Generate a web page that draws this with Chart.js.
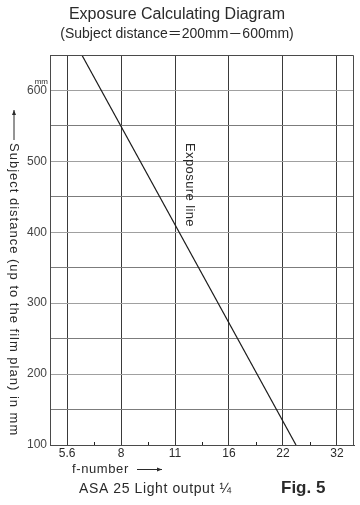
<!DOCTYPE html>
<html>
<head>
<meta charset="utf-8">
<title>Exposure Calculating Diagram</title>
<script src="https://cdn.jsdelivr.net/npm/chart.js@4.4.1/dist/chart.umd.min.js"></script>
<style>
  html, body { margin: 0; padding: 0; background: #fff; }
  canvas { display: block; }
</style>
</head>
<body>
<canvas id="chart" width="360" height="505"></canvas>
<script>
// f-number stops along the bottom, as printed
const fNumberLabels = ["5.6", "8", "11", "16", "22", "32"];
// exact stop values (one stop = factor sqrt 2)
const fNumberStops = [5.657, 8, 11.314, 16, 22.627, 32];
// small marks between the stops
const fNumberHalfStops = [6.727, 9.514, 13.454, 19.027, 26.909];

// subject distance grid in mm, labelled every 100
const distanceGrid = [100, 150, 200, 250, 300, 350, 400, 450, 500, 550, 600];
const distanceLabels = [100, 200, 300, 400, 500, 600];

// the exposure line
const exposureF = [6.22, 24.6];
const exposureDistance = [650, 100];

const FONT = "'Liberation Sans', 'Noto Sans CJK JP', sans-serif";
const TEXT = "#2a2a2a";

function drawVertical(ctx, text, x, y, spacing) {
  ctx.save();
  ctx.translate(x, y);
  ctx.rotate(Math.PI / 2);
  if ("letterSpacing" in ctx) ctx.letterSpacing = spacing + "px";
  ctx.textAlign = "left";
  ctx.textBaseline = "middle";
  ctx.fillText(text, 0, 0);
  ctx.restore();
}

function arrow(ctx, x1, y1, x2, y2) {
  const a = Math.atan2(y2 - y1, x2 - x1);
  ctx.beginPath();
  ctx.moveTo(x1, y1);
  ctx.lineTo(x2, y2);
  ctx.stroke();
  ctx.beginPath();
  ctx.moveTo(x2, y2);
  ctx.lineTo(x2 - 5 * Math.cos(a) + 2 * Math.sin(a), y2 - 5 * Math.sin(a) - 2 * Math.cos(a));
  ctx.lineTo(x2 - 5 * Math.cos(a) - 2 * Math.sin(a), y2 - 5 * Math.sin(a) + 2 * Math.cos(a));
  ctx.closePath();
  ctx.fill();
}

// frame, half-stop marks and the loose captions of the figure
const annotations = {
  id: "annotations",
  afterDraw(chart) {
    const { ctx, chartArea: area, scales } = chart;
    ctx.save();
    ctx.strokeStyle = "#4a4a4a";
    ctx.lineWidth = 1;
    ctx.beginPath();
    ctx.moveTo(Math.round(area.left) + 0.5, Math.round(area.top) + 0.5);
    ctx.lineTo(Math.round(area.right) - 0.5, Math.round(area.top) + 0.5);
    ctx.lineTo(Math.round(area.right) - 0.5, Math.round(area.bottom));
    ctx.stroke();

    ctx.strokeStyle = "#222";
    fNumberHalfStops.forEach((f) => {
      const x = Math.round(scales.x.getPixelForValue(f)) + 0.5;
      ctx.beginPath();
      ctx.moveTo(x, area.bottom);
      ctx.lineTo(x, area.bottom - 3);
      ctx.stroke();
    });

    ctx.fillStyle = TEXT;
    ctx.strokeStyle = TEXT;

    // unit above the top label
    ctx.font = "8px " + FONT;
    ctx.textAlign = "right";
    ctx.textBaseline = "middle";
    ctx.fillText("mm", area.left - 2, scales.y.getPixelForValue(600) - 9);

    // y axis caption, reading downwards
    ctx.font = "13px " + FONT;
    arrow(ctx, 14, 140, 14, 110);
    drawVertical(ctx, "Subject distance (up to the film plan) in mm", 14, 143, 1);

    // label on the line
    ctx.font = "13px " + FONT;
    drawVertical(ctx, "Exposure line", 190, 143, 0.4);

    // x axis caption
    ctx.font = "13px " + FONT;
    ctx.textAlign = "left";
    if ("letterSpacing" in ctx) ctx.letterSpacing = "0.6px";
    ctx.fillText("f-number", 72, 469);
    arrow(ctx, 137, 469.5, 162, 469.5);

    ctx.font = "14px " + FONT;
    ctx.fillText("ASA 25 Light output \u00BC", 79, 489);
    if ("letterSpacing" in ctx) ctx.letterSpacing = "0px";
    ctx.font = "bold 17px " + FONT;
    ctx.fillText("Fig. 5", 281, 488);
    ctx.restore();
  },
};

const ctx = document.getElementById("chart").getContext("2d");
new Chart(ctx, {
  type: "line",
  data: {
    datasets: [
      {
        label: "Exposure line",
        data: exposureF.map((f, i) => ({ x: f, y: exposureDistance[i] })),
        borderColor: "#1a1a1a",
        borderWidth: 1.2,
        pointRadius: 0,
        tension: 0,
      },
    ],
  },
  plugins: [annotations],
  options: {
    responsive: false,
    animation: false,
    devicePixelRatio: 1,
    layout: { padding: { left: 0, right: 6, top: 0, bottom: 0 } },
    scales: {
      x: {
        type: "logarithmic",
        min: 5.07,
        max: 35.7,
        afterBuildTicks: (scale) => {
          scale.ticks = fNumberStops.map((v) => ({ value: v }));
        },
        afterFit: (scale) => {
          scale.height = 60;
        },
        ticks: {
          autoSkip: false,
          maxRotation: 0,
          padding: 1,
          color: TEXT,
          font: { family: FONT, size: 12 },
          callback: (value, index) => fNumberLabels[index],
        },
        grid: { color: "#3a3a3a", lineWidth: 1, drawTicks: false },
        border: { color: "#4a4a4a" },
      },
      y: {
        type: "linear",
        min: 100,
        max: 650,
        afterBuildTicks: (scale) => {
          scale.ticks = distanceGrid.map((v) => ({ value: v }));
        },
        afterFit: (scale) => {
          scale.width = 50;
        },
        ticks: {
          autoSkip: false,
          padding: 3,
          color: "#444",
          font: { family: FONT, size: 12 },
          callback: (value) => (distanceLabels.includes(value) ? String(value) : ""),
        },
        grid: {
          color: (c) => (c.tick && c.tick.value % 100 === 0 ? "#a0a0a0" : "#7c7c7c"),
          lineWidth: 1,
          drawTicks: false,
        },
        border: { color: "#4a4a4a" },
      },
    },
    plugins: {
      legend: { display: false },
      tooltip: { enabled: false },
      title: {
        display: true,
        text: "Exposure Calculating Diagram",
        color: TEXT,
        font: { family: FONT, size: 16, weight: "normal" },
        padding: { top: 5, bottom: 2 },
      },
      subtitle: {
        display: true,
        text: "(Subject distance\uFF1D200mm\uFF0D600mm)",
        color: TEXT,
        font: { family: FONT, size: 14 },
        padding: { top: 0, bottom: 12 },
      },
    },
  },
});
</script>
</body>
</html>
